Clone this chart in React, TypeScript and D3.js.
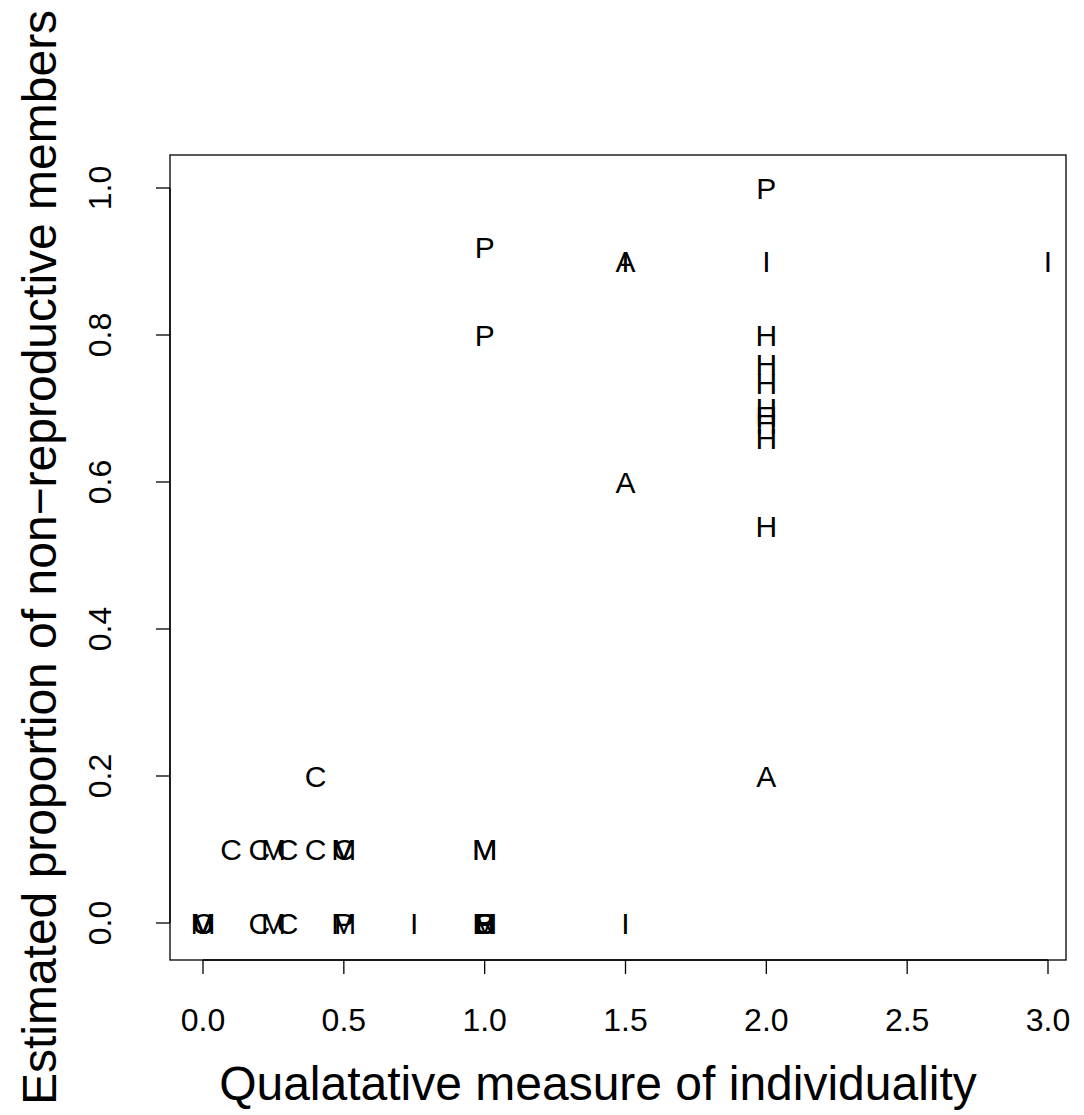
import { useEffect, useRef } from "react";
import * as d3 from "d3";

// individuality score, estimated proportion, group letter
const xs = [
  0, 0, 0, 0, 0.2, 0.25, 0.3, 0.5, 0.5, 0.75, 1, 1, 1, 1, 1, 1, 1.5,
  0.1, 0.2, 0.25, 0.3, 0.4, 0.5, 0.5, 0.5, 1, 1,
  0.4, 2, 1.5, 2, 2, 2, 2, 2, 2, 2, 1, 1, 1.5, 1.5, 2, 3, 2, 2,
];
const ys = [
  0, 0, 0, 0, 0, 0, 0, 0, 0, 0, 0, 0, 0, 0, 0, 0, 0,
  0.1, 0.1, 0.1, 0.1, 0.1, 0.1, 0.1, 0.1, 0.1, 0.1,
  0.2, 0.2, 0.6, 0.54, 0.66, 0.68, 0.69, 0.7, 0.735, 0.76, 0.8, 0.92, 0.9, 0.9, 0.9, 0.9, 0.8, 1,
];
const labels = [
  "C", "M", "V", "U", "C", "M", "C", "M", "P", "I", "M", "B", "R", "P", "C", "H", "I",
  "C", "C", "M", "C", "C", "M", "V", "C", "M", "M",
  "C", "A", "A", "H", "H", "H", "H", "H", "H", "H", "P", "P", "A", "I", "I", "I", "H", "P",
];
const xTicks = [0, 0.5, 1, 1.5, 2, 2.5, 3];
const yTicks = [0, 0.2, 0.4, 0.6, 0.8, 1];

const App = () => {
  const ref = useRef<SVGSVGElement>(null);

  useEffect(() => {
    document.body.style.margin = "0";
    const width = 1084, height = 1115;
    const left = 170, right = 1066, top = 155, bottom = 960;
    const font = "Liberation Sans, Arial, sans-serif";

    const svg = d3.select(ref.current)
      .html("")
      .attr("width", width)
      .attr("height", height)
      .style("display", "block")
      .style("font-family", font);

    const x = d3.scaleLinear().domain([0, 3]).range([203, 1048]);
    const y = d3.scaleLinear().domain([0, 1]).range([923, 188]);

    svg.append("rect")
      .attr("x", left).attr("y", top)
      .attr("width", right - left).attr("height", bottom - top)
      .attr("fill", "none").attr("stroke", "black").attr("stroke-width", 1.3);

    // x axis
    const xa = svg.append("g").attr("transform", `translate(0,${bottom})`);
    xa.append("line")
      .attr("x1", x(0)).attr("x2", x(3))
      .attr("stroke", "black").attr("stroke-width", 1.3);
    xa.selectAll("line.t").data(xTicks).enter().append("line")
      .attr("class", "t")
      .attr("x1", d => x(d)).attr("x2", d => x(d))
      .attr("y1", 0).attr("y2", 14)
      .attr("stroke", "black").attr("stroke-width", 1.3);
    xa.selectAll("text").data(xTicks).enter().append("text")
      .attr("x", d => x(d)).attr("y", 71)
      .attr("text-anchor", "middle")
      .style("font-size", "32px")
      .text(d => d.toFixed(1));

    // y axis
    const ya = svg.append("g").attr("transform", `translate(${left},0)`);
    ya.append("line")
      .attr("y1", y(0)).attr("y2", y(1))
      .attr("stroke", "black").attr("stroke-width", 1.3);
    ya.selectAll("line.t").data(yTicks).enter().append("line")
      .attr("class", "t")
      .attr("y1", d => y(d)).attr("y2", d => y(d))
      .attr("x1", 0).attr("x2", -14)
      .attr("stroke", "black").attr("stroke-width", 1.3);
    ya.selectAll("text").data(yTicks).enter().append("text")
      .attr("transform", d => `translate(-59,${y(d)}) rotate(-90)`)
      .attr("text-anchor", "middle")
      .style("font-size", "32px")
      .text(d => d.toFixed(1));

    svg.append("text")
      .attr("x", (left + right) / 2 - 20).attr("y", 1100)
      .attr("text-anchor", "middle")
      .style("font-size", "48px")
      .text("Qualatative measure of individuality");

    svg.append("text")
      .attr("transform", `translate(56,${(top + bottom) / 2}) rotate(-90)`)
      .attr("text-anchor", "middle")
      .style("font-size", "48px")
      .text("Estimated proportion of non\u2212reproductive members");

    svg.append("g").selectAll("text")
      .data(labels).enter().append("text")
      .attr("x", (d, i) => x(xs[i]))
      .attr("y", (d, i) => y(ys[i]))
      .attr("dy", "0.36em")
      .attr("text-anchor", "middle")
      .style("font-size", "30px")
      .text(d => d);
  }, []);

  return <svg ref={ref}></svg>;
};

export default App;
